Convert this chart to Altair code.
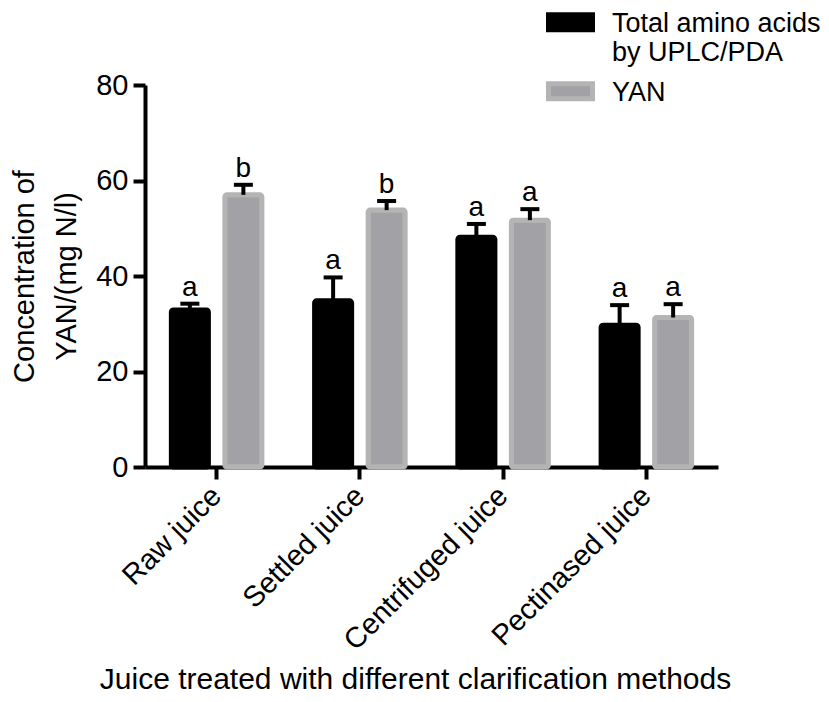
import altair as alt
import pandas as pd

categories = ["Raw juice", "Settled juice", "Centrifuged juice", "Pectinased juice"]
series_names = ["Total amino acids by UPLC/PDA", "YAN"]
taa_values = [32.9, 34.8, 48.1, 29.7]
taa_errors = [1.3, 4.9, 2.8, 4.2]
yan_values = [57.0, 53.8, 51.7, 31.3]
yan_errors = [2.1, 1.9, 2.3, 2.8]
taa_letters = ["a", "a", "a", "a"]
yan_letters = ["b", "b", "a", "a"]
fill_colors = ["#000000", "#a2a2a6"]
stroke_colors = ["#000000", "#b4b4b4"]

rows = []
for i, c in enumerate(categories):
    rows.append(dict(category=c, series=series_names[0], value=taa_values[i],
                     err=taa_errors[i], letter=taa_letters[i]))
    rows.append(dict(category=c, series=series_names[1], value=yan_values[i],
                     err=yan_errors[i], letter=yan_letters[i]))
df = pd.DataFrame(rows)
df["upper"] = df["value"] + df["err"]

FONT = "Liberation Sans"

legend = alt.Legend(
    title=None, orient="none", legendX=412, legendY=-88,
    symbolType="M-2.2,0.42H2.2V1.92H-2.2Z", symbolSize=400,
    symbolStrokeWidth=5, labelFont=FONT, labelFontSize=27, labelColor="black",
    labelBaseline="top", labelOffset=28, labelLimit=400, padding=0,
    rowPadding=0,
    labelExpr="datum.label == 'Total amino acids by UPLC/PDA' ? ['Total amino acids', 'by UPLC/PDA'] : datum.label",
)

x_enc = alt.X(
    "category:N", sort=categories,
    scale=alt.Scale(paddingInner=0.368, paddingOuter=0.184),
    axis=alt.Axis(
        title="Juice treated with different clarification methods",
        labelAngle=-45, labelAlign="right", labelBaseline="middle", labelLimit=400,
        labelFont=FONT, labelFontSize=29, labelColor="black", labelPadding=12,
        titleFont=FONT, titleFontSize=30, titleFontWeight="normal", titleColor="black",
        titleX=270, titleY=221, titleBaseline="alphabetic",
        domainColor="black", domainWidth=4, tickColor="black", tickWidth=4, tickSize=12,
    ),
)
xoff = alt.XOffset("series:N", sort=series_names,
                   scale=alt.Scale(paddingInner=0.308, paddingOuter=0))
y_scale = alt.Scale(domain=[0, 80], nice=False)
y_axis = alt.Axis(
    title=["Concentration of", "YAN/(mg N/l)"], values=[0, 20, 40, 60, 80],
    labelFont=FONT, labelFontSize=29, labelColor="black", labelPadding=5,
    titleFont=FONT, titleFontSize=29, titleFontWeight="normal", titleColor="black",
    titlePadding=14, titleLineHeight=42,
    domainColor="black", domainWidth=4, tickColor="black", tickWidth=4, tickSize=12,
    grid=False,
)

base = alt.Chart(df)

bars = base.mark_bar(strokeWidth=5, cornerRadius=2).encode(
    x=x_enc,
    xOffset=xoff,
    y=alt.Y("value:Q", scale=y_scale, axis=y_axis),
    color=alt.Color("series:N", sort=series_names,
                    scale=alt.Scale(domain=series_names, range=fill_colors), legend=legend),
    stroke=alt.Stroke("series:N", sort=series_names,
                      scale=alt.Scale(domain=series_names, range=stroke_colors), legend=legend),
)

err_rule = base.mark_rule(color="black", strokeWidth=4).encode(
    x=alt.X("category:N", sort=categories),
    xOffset=xoff,
    y="value:Q",
    y2="upper:Q",
)

caps = base.mark_tick(color="black", thickness=4, size=19, opacity=1).encode(
    x=alt.X("category:N", sort=categories),
    xOffset=xoff,
    y="upper:Q",
)

letters = base.mark_text(font=FONT, fontSize=28, color="black", baseline="alphabetic", dy=-8).encode(
    x=alt.X("category:N", sort=categories),
    xOffset=xoff,
    y="upper:Q",
    text="letter:N",
)

chart = alt.layer(bars, err_rule, caps, letters).properties(
    width=573, height=382,
    autosize=alt.AutoSizeParams(type="none"),
    padding={"left": 137, "top": 77, "right": 103, "bottom": 227},
    background="white",
).configure_view(stroke=None)

chart.save("out.html", embed_options={"renderer": "svg", "actions": False})
